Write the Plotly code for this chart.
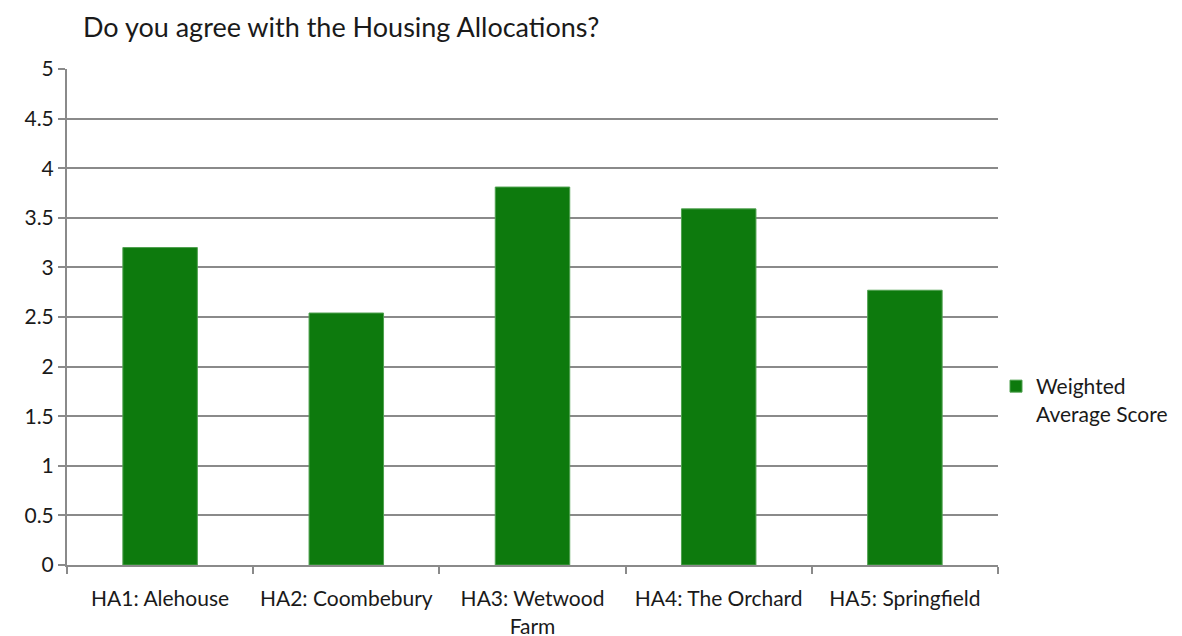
import plotly.graph_objects as go

categories = ["HA1: Alehouse", "HA2: Coombebury", "HA3: Wetwood<br>Farm", "HA4: The Orchard", "HA5: Springfield"]
scores = [3.20, 2.54, 3.81, 3.59, 2.77]
series_name = "Weighted<br>Average Score"
title_text = "Do you agree with the Housing Allocations?"

FONT = "Lato, Calibri, Carlito, sans-serif"
GRID = "#8a8a8a"
TXT = "#1a1a1a"

W, H = 1174, 628  # page body has 8px margin

fig = go.Figure()
fig.add_trace(go.Bar(
    x=categories, y=scores, name=series_name,
    marker=dict(color="#0d7a0d", line=dict(color="#4fa04f", width=1)),
    showlegend=True,
))

fig.update_layout(
    width=W, height=H,
    paper_bgcolor="white", plot_bgcolor="white",
    margin=dict(l=59, r=184, t=61, b=71, autoexpand=False),
    title=dict(text=title_text, x=75/W, xanchor="left", xref="container",
               y=1-20/H, yanchor="middle", yref="container",
               font=dict(family=FONT, size=27, color=TXT)),
    bargap=0.6,
    font=dict(family=FONT, size=22, color=TXT),
    legend=dict(x=988/W, xref="container", xanchor="left",
                y=1-392/H, yref="container", yanchor="middle",
                font=dict(family=FONT, size=21, color=TXT),
                itemwidth=30, valign="top", bgcolor="rgba(0,0,0,0)"),
    showlegend=True,
)
fig.update_xaxes(
    type="category", tickson="boundaries", ticks="outside", ticklen=7,
    tickcolor=GRID, tickwidth=2, showline=True, linecolor=GRID, linewidth=2,
    showgrid=False, ticklabelstandoff=14, tickangle=0,
    tickfont=dict(family=FONT, size=21, color=TXT),
)
fig.update_yaxes(
    range=[0, 5], dtick=0.5, tick0=0, ticks="outside", ticklen=7,
    tickcolor=GRID, tickwidth=2, showline=True, linecolor=GRID, linewidth=2,
    showgrid=True, gridcolor=GRID, gridwidth=2, zeroline=False,
    tickfont=dict(family=FONT, size=21, color=TXT),
)

fig.write_html("out.html")
